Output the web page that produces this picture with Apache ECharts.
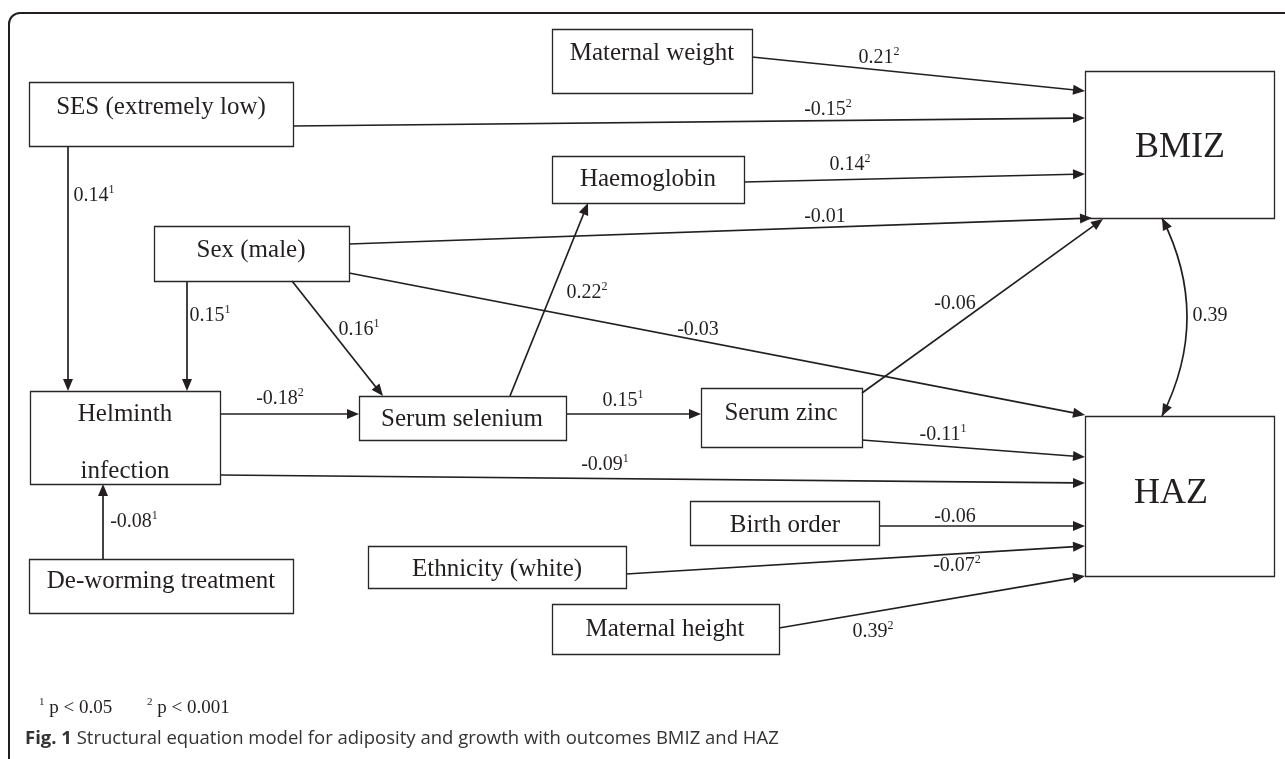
<!DOCTYPE html>
<html><head><meta charset="utf-8">
<script src="https://cdn.jsdelivr.net/npm/echarts@6/dist/echarts.min.js"></script>
<style>html,body{margin:0;padding:0;background:#fff}#c{width:1285px;height:759px}</style>
</head><body><div id="c"></div>
<script>
// ================= DATA =================
const variables = ['Maternal weight','SES (extremely low)','Haemoglobin','Sex (male)','Helminth infection',
  'Serum selenium','Serum zinc','De-worming treatment','Birth order','Ethnicity (white)','Maternal height','BMIZ','HAZ'];
const outcomes = ['BMIZ','HAZ'];
const pathFrom = ['Maternal weight','SES (extremely low)','Haemoglobin','Sex (male)','Serum zinc','Sex (male)',
  'Sex (male)','Sex (male)','SES (extremely low)','Helminth infection','Serum selenium','Serum selenium',
  'Serum zinc','Helminth infection','Birth order','Ethnicity (white)','Maternal height','De-worming treatment'];
const pathTo = ['BMIZ','BMIZ','BMIZ','BMIZ','BMIZ','HAZ',
  'Serum selenium','Helminth infection','Helminth infection','Serum selenium','Haemoglobin','Serum zinc',
  'HAZ','HAZ','HAZ','HAZ','HAZ','Helminth infection'];
const pathCoef = [0.21,-0.15,0.14,-0.01,-0.06,-0.03,0.16,0.15,0.14,-0.18,0.22,0.15,-0.11,-0.09,-0.06,-0.07,0.39,-0.08];
const pathSig  = [2,2,2,0,0,0,1,1,1,2,2,1,1,1,0,2,2,1];
const covFrom = ['BMIZ'];
const covTo = ['HAZ'];
const covCoef = [0.39];
const sigMarks = ['1','2'];
const sigLevels = ['p < 0.05','p < 0.001'];
const captionLabel = 'Fig. 1';
const captionText = 'Structural equation model for adiposity and growth with outcomes BMIZ and HAZ';

// ================= LAYOUT (diagram space, drawn through hidden value axes) =================
const boxLayout = {
  'Maternal weight':      {box:[552,29,752,93],   text:[[652,53]]},
  'SES (extremely low)':  {box:[29,82,293,146],   text:[[161,107]]},
  'Haemoglobin':          {box:[552,156,744,203], text:[[648,179]]},
  'Sex (male)':           {box:[154,226,349,281], text:[[251,250]]},
  'Helminth infection':   {box:[30,391,220,484],  text:[[125,414],[125,471]]},
  'Serum selenium':       {box:[359,396,566,440], text:[[462,419]]},
  'Serum zinc':           {box:[701,388,862,447], text:[[781,413]]},
  'De-worming treatment': {box:[29,559,293,613],  text:[[161,581]]},
  'Birth order':          {box:[690,501,879,545], text:[[785,525]]},
  'Ethnicity (white)':    {box:[368,546,626,588], text:[[497,569]]},
  'Maternal height':      {box:[552,604,779,654], text:[[665,629]]},
  'BMIZ':                 {box:[1085,71,1274,218], text:[[1180,148]]},
  'HAZ':                  {box:[1085,416,1274,576],text:[[1171,494]]}
};
const pathLayout = [
  {line:[752,57,1085,91],    label:[879,57]},
  {line:[293,126,1085,118],  label:[828,109]},
  {line:[744,182,1085,174],  label:[850,164]},
  {line:[349,244,1092,218],  label:[825,216]},
  {line:[862,393,1103,219],  label:[955,303]},
  {line:[349,273,1085,415],  label:[698,329]},
  {line:[292,281,383,396],   label:[359,329]},
  {line:[187,281,187,391],   label:[210,315]},
  {line:[68,146,68,391],     label:[94,195]},
  {line:[220,414,359,414],   label:[280,398]},
  {line:[510,396,588,203],   label:[587,292]},
  {line:[566,414,701,414],   label:[623,400]},
  {line:[862,440,1085,457],  label:[943,434]},
  {line:[220,475,1085,483],  label:[605,464]},
  {line:[879,526,1085,526],  label:[955,516]},
  {line:[626,574,1085,546],  label:[957,565]},
  {line:[779,628,1085,576],  label:[873,631]},
  {line:[103,559,103,484],   label:[134,521]}
];
const covLayout = [{start:[1162,218], ctrl:[1212,317], end:[1162,416], label:[1210,315]}];
const footLayout = [[39,707],[147,707]];

// ================= STYLE =================
const SERIF = '"Liberation Serif","Times New Roman",serif';
const SANS = '"Open Sans","Noto Sans",sans-serif';
const INK = '#231f20';
const HEAD_L = 12, HEAD_W = 5;

const labelRich = {
  n: {fontSize:20, fontFamily:SERIF, fill:INK, lineHeight:22, verticalAlign:'bottom'},
  s: {fontSize:12, fontFamily:SERIF, fill:INK, lineHeight:12, verticalAlign:'top'}
};
function coefText(c, sig) {
  const t = c.toFixed(2);
  return sig ? '{n|' + t + '}{s|' + sig + '}' : '{n|' + t + '}';
}
function arrowHead(tip, from) {
  let dx = tip[0] - from[0], dy = tip[1] - from[1];
  const len = Math.sqrt(dx*dx + dy*dy) || 1; dx /= len; dy /= len;
  const bx = tip[0] - dx*HEAD_L, by = tip[1] - dy*HEAD_L;
  return {pts:[[tip[0],tip[1]],[bx - dy*HEAD_W, by + dx*HEAD_W],[bx + dy*HEAD_W, by - dx*HEAD_W]], base:[bx + dx*2, by + dy*2]};
}

function renderBox(params, api) {
  const name = variables[params.dataIndex];
  const L = boxLayout[name];
  const a = api.coord([L.box[0], L.box[1]]), b = api.coord([L.box[2], L.box[3]]);
  const big = outcomes.indexOf(name) >= 0;
  const lines = L.text.length > 1 ? name.split(' ') : [name];
  const children = [{type:'rect', shape:{x:Math.round(a[0])+0.5, y:Math.round(a[1])+0.5, width:Math.round(b[0]-a[0]), height:Math.round(b[1]-a[1])},
    style:{fill:'none', stroke:'#2a2627', lineWidth:1.3}}];
  L.text.forEach(function (t, k) {
    const c = api.coord(t);
    children.push({type:'text', style:{text:lines[k], x:c[0], y:c[1], align:'center', verticalAlign:'middle',
      fontSize: big ? 36 : 25, fontFamily:SERIF, fill:INK}});
  });
  return {type:'group', children:children};
}

function renderPath(params, api) {
  const i = params.dataIndex;
  const L = pathLayout[i];
  const s = api.coord([L.line[0], L.line[1]]), e = api.coord([L.line[2], L.line[3]]);
  const h = arrowHead(e, s);
  const lp = api.coord(L.label);
  return {type:'group', children:[
    {type:'line', shape:{x1:s[0], y1:s[1], x2:h.base[0], y2:h.base[1]}, style:{stroke:INK, lineWidth:1.7}},
    {type:'polygon', shape:{points:h.pts}, style:{fill:INK}},
    {type:'text', style:{text:coefText(pathCoef[i], pathSig[i]), x:lp[0], y:lp[1], align:'center', verticalAlign:'middle', rich:labelRich}}
  ]};
}

function renderCov(params, api) {
  const i = params.dataIndex;
  const L = covLayout[i];
  const s = api.coord(L.start), c = api.coord(L.ctrl), e = api.coord(L.end), lp = api.coord(L.label);
  const h1 = arrowHead(s, c), h2 = arrowHead(e, c);
  return {type:'group', children:[
    {type:'bezierCurve', shape:{x1:s[0], y1:s[1], x2:e[0], y2:e[1], cpx1:c[0], cpy1:c[1]}, style:{stroke:INK, lineWidth:1.7, fill:'none'}},
    {type:'polygon', shape:{points:h1.pts}, style:{fill:INK}},
    {type:'polygon', shape:{points:h2.pts}, style:{fill:INK}},
    {type:'text', style:{text:'{n|' + covCoef[i].toFixed(2) + '}', x:lp[0], y:lp[1], align:'center', verticalAlign:'middle', rich:labelRich}}
  ]};
}

function renderFoot(params, api) {
  const i = params.dataIndex;
  const p = api.coord(footLayout[i]);
  return {type:'text', style:{text:'{s|' + sigMarks[i] + '}{t| ' + sigLevels[i] + '}', x:p[0], y:p[1], align:'left', verticalAlign:'middle',
    rich:{ s:{fontSize:11, fontFamily:SERIF, fill:INK, lineHeight:11, verticalAlign:'top'},
           t:{fontSize:19, fontFamily:SERIF, fill:INK, lineHeight:21, verticalAlign:'bottom'} }}};
}

const chart = echarts.init(document.getElementById('c'), null, {renderer:'canvas'});
chart.setOption({
  animation:false,
  backgroundColor:'#ffffff',
  grid:{left:0, right:0, top:0, bottom:0},
  xAxis:{type:'value', min:0, max:1285, show:false},
  yAxis:{type:'value', min:0, max:759, inverse:true, show:false},
  graphic:[
    {type:'rect', silent:true, shape:{x:9, y:13, width:1300, height:770, r:11}, style:{fill:'none', stroke:INK, lineWidth:2}, z:0},
    {type:'text', silent:true, left:25, top:729, style:{text:'{b|' + captionLabel + '}{n| ' + captionText + '}',
      rich:{ b:{fontSize:18.5, fontWeight:'bold', fontFamily:SANS, fill:'#333333'}, n:{fontSize:18.5, fontFamily:SANS, fill:'#333333'} }}}
  ],
  series:[
    {type:'custom', silent:true, clip:false, renderItem:renderPath, data:pathFrom.map(function(f,i){return [i,0];}), z:2},
    {type:'custom', silent:true, clip:false, renderItem:renderCov, data:covFrom.map(function(f,i){return [i,0];}), z:2},
    {type:'custom', silent:true, clip:false, renderItem:renderBox, data:variables.map(function(v,i){return [i,0];}), z:3},
    {type:'custom', silent:true, clip:false, renderItem:renderFoot, data:sigLevels.map(function(v,i){return [i,0];}), z:3}
  ]
});
</script>
</body></html>
